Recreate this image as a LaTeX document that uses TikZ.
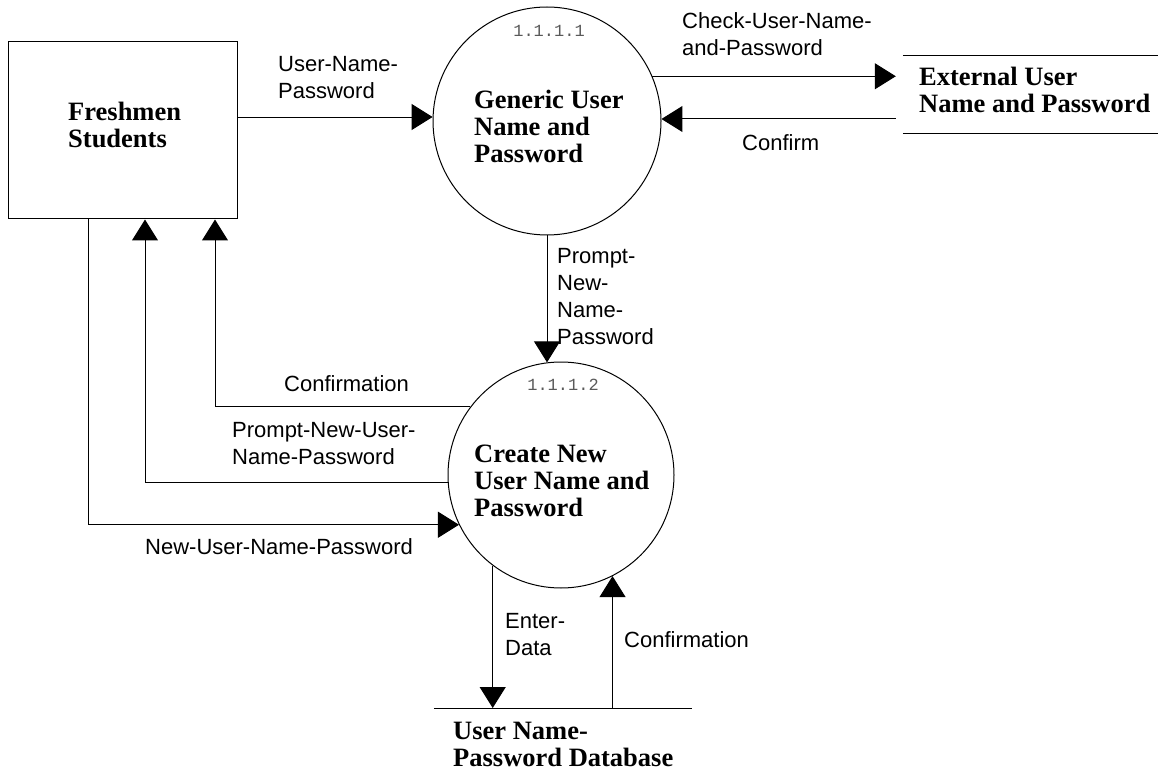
\documentclass[tikz,border=0pt]{standalone}
\usepackage{fontspec}
\setmainfont{Liberation Serif}
\setsansfont{Liberation Sans}
\setmonofont{Liberation Mono}
\usetikzlibrary{arrows.meta}
\begin{document}
\begin{tikzpicture}[x=1pt,y=-1pt,
  line/.style={line width=1pt, draw=black},
  arr/.style={line, -{Triangle[length=21pt,width=26pt]}},
  title/.style={font=\fontsize{26.5}{27}\selectfont\bfseries, align=left, inner sep=0pt, anchor=base west},
  lbl/.style={font=\sffamily\fontsize{22}{27}\selectfont, align=left, inner sep=0pt, anchor=base west},
  num/.style={font=\ttfamily\fontsize{17}{17}\selectfont, text=black!65, inner sep=0pt, anchor=base},
  proc/.style={circle, line, inner sep=0pt},
]
\useasboundingbox (0,0) rectangle (1158,783);

% entity (anchor = baseline of last text line)
\node[line, minimum width=229pt, minimum height=177pt, inner sep=0pt] (fresh) at (122.5,130.5) {};
\node[title] (freshT) at (68,148) {Freshmen\\Students};

% processes
\node[proc, minimum size=228pt] (c1) at (547,121) {};
\node[num] (n1) at (549,37) {1.1.1.1};
\node[title] (c1T) at (474,163) {Generic User\\Name and\\Password};

\node[proc, minimum size=226pt] (c2) at (561,475) {};
\node[num] (n2) at (563,390) {1.1.1.2};
\node[title] (c2T) at (474,516) {Create New\\User Name and\\Password};

% data stores
\node[minimum width=255pt, minimum height=77pt, inner sep=0pt] (ext) at (1030.5,94.5) {};
\draw[line] (ext.north west) -- (ext.north east);
\draw[line] (ext.south west) -- (ext.south east);
\node[title] (extT) at (919,113) {External User\\Name and Password};

\node[minimum width=258pt, minimum height=0pt, inner sep=0pt] (db) at (563,708) {};
\draw[line] (db.west) -- (db.east);
\node[title] (dbT) at (453,766) {User Name-\\Password Database};

% flows
\draw[arr] (fresh.east |- c1.178.5) -- (c1.178.5);
\node[lbl] (l1) at (278,99) {User-Name-\\Password};

\draw[arr] (c1.23.8) -- ([xshift=-7pt]ext.west |- c1.23.8);
\node[lbl] (l2) at (682,56) {Check-User-Name-\\and-Password};

\draw[arr] ([xshift=-7pt]ext.west |- c1.1.5) -- (c1.1.5);
\node[lbl] (l3) at (742,151) {Confirm};

\draw[arr] (c1.south) -- (c1.south |- c2.97.1);
\node[lbl] (l4) at (557,344) {Prompt-\\New-\\Name-\\Password};

\draw[arr] (c2.143.6) -| ([xshift=92.5pt]fresh.south);
\node[lbl] (l5) at (284,391) {Confirmation};

\draw[arr] (c2.184.1) -| ([xshift=22.5pt]fresh.south);
\node[lbl] (l6) at (232,464) {Prompt-New-User-\\Name-Password};

\draw[arr] ([xshift=-34.5pt]fresh.south) |- (c2.206.8);
\node[lbl] (l7) at (145,554) {New-User-Name-Password};

\draw[arr] (c2.233.6) -- (c2.233.6 |- db.center);
\node[lbl] (l8) at (505,655) {Enter-\\Data};

\draw[arr] (c2.297.4 |- db.center) -- (c2.297.4);
\node[lbl] (l9) at (624,647) {Confirmation};
\end{tikzpicture}
\end{document}
